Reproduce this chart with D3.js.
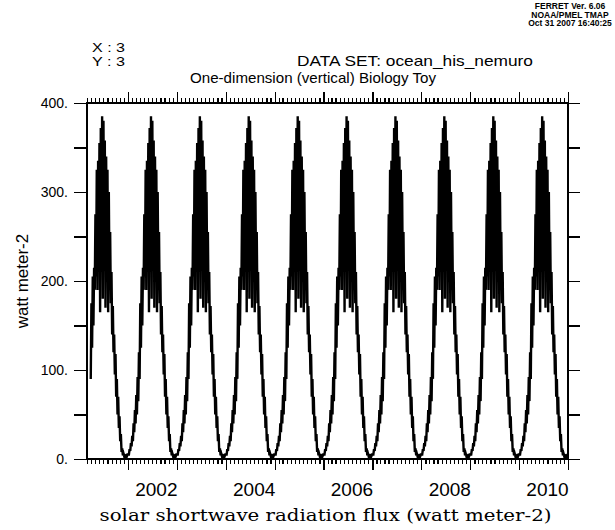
<!DOCTYPE html>
<html><head><meta charset="utf-8">
<script src="https://cdn.jsdelivr.net/npm/d3@7"></script>
<style>body{margin:0;background:#fff}svg{display:block}</style>
</head><body>
<svg id="chart" width="615" height="530"></svg>
<script>
// ---- data ----
const years = [2001,2002,2003,2004,2005,2006,2007,2008,2009,2010];
// pentad (5-day) values of the repeating annual cycle, W m-2 (alternating clear/cloudy pentads)
const pentadCycle = [
  5, 5, 11, 9, 18, 14, 26, 20, 40, 30,
  55, 40, 72, 50, 92, 65, 120, 90, 175, 125,
  205, 150, 215, 190, 275, 205, 325, 190, 335, 230,
  355, 165, 372, 210, 385, 180, 380, 225, 358, 170,
  340, 205, 325, 165, 300, 200, 255, 175, 210, 140,
  172, 120, 140, 95, 118, 70, 90, 50, 70, 35,
  48, 20, 28, 8, 12, 4, 6, 3, 4, 3,
  4, 3, 5
];
const firstPentad2001 = 17;
const yTicks = [0,50,100,150,200,250,300,350,400];
const yLabelValues = [0,100,200,300,400];
const xLabelYears = [2002,2004,2006,2008,2010];
const headerLines = ["FERRET Ver. 6.06","NOAA/PMEL TMAP","Oct 31 2007 16:40:25"];
const infoLines = ["X : 3","Y : 3"];
const datasetLabel = "DATA SET: ocean_his_nemuro";
const titleText = "One-dimension (vertical) Biology Toy";
const yTitle = "watt meter-2";
const xTitle = "solar shortwave radiation flux (watt meter-2)";

// ---- layout ----
const svg = d3.select("#chart");
const X0 = 87, X1 = 568, Y0 = 459, Y1 = 103;
const tStart = new Date(2001,2,1), tEnd = new Date(2011,0,1);
const x = d3.scaleTime().domain([tStart,tEnd]).range([X0,X1]);
const y = d3.scaleLinear().domain([0,400]).range([Y0,Y1]);
const sans = "Liberation Sans, Arial, sans-serif";

const points = [];
years.forEach(yr => {
  pentadCycle.forEach((v,i) => {
    if (yr === 2001 && i < firstPentad2001) return;
    points.push({t: new Date(yr,0,1 + i*5 + 2), v});
  });
});

// data line
svg.append("path").datum(points)
  .attr("fill","none").attr("stroke","#000").attr("stroke-width",2.4)
  .attr("stroke-linejoin","miter")
  .attr("d", d3.line().x(d=>x(d.t)).y(d=>y(d.v)));

// axes
const months = d3.timeMonth.range(tStart, d3.timeDay.offset(tEnd,1));
const yearTicks = d3.timeYear.range(d3.timeYear.ceil(tStart), d3.timeDay.offset(tEnd,1));
function styleAxis(g){
  g.select(".domain").remove();
  g.selectAll("line").attr("stroke","#000").attr("stroke-width",1.2).attr("shape-rendering","crispEdges");
}
svg.append("g").attr("transform",`translate(0,${Y0})`)
  .call(d3.axisBottom(x).tickValues(months).tickSize(5).tickFormat("")).call(styleAxis);
svg.append("g").attr("transform",`translate(0,${Y0})`)
  .call(d3.axisBottom(x).tickValues(yearTicks).tickSize(11).tickFormat("")).call(styleAxis);
svg.append("g").attr("transform",`translate(0,${Y1})`)
  .call(d3.axisTop(x).tickValues(months).tickSize(5).tickFormat("")).call(styleAxis);
svg.append("g").attr("transform",`translate(0,${Y1})`)
  .call(d3.axisTop(x).tickValues(yearTicks).tickSize(11).tickFormat("")).call(styleAxis);

const yl = svg.append("g").attr("transform",`translate(${X0},0)`)
  .call(d3.axisLeft(y).tickValues(yTicks).tickSize(13).tickPadding(6)
    .tickFormat(d => yLabelValues.includes(d) ? d + "." : "")).call(styleAxis);
yl.selectAll("text").attr("font-family",sans).attr("font-size",14).attr("fill","#000");
svg.append("g").attr("transform",`translate(${X1},0)`)
  .call(d3.axisRight(y).tickValues(yTicks).tickSize(12).tickFormat("")).call(styleAxis);

// frame
svg.append("rect").attr("x",X0).attr("y",Y1).attr("width",X1-X0).attr("height",Y0-Y1)
  .attr("fill","none").attr("stroke","#000").attr("stroke-width",1.2).attr("shape-rendering","crispEdges");

// x year labels (centred on mid-year)
svg.append("g").selectAll("text").data(xLabelYears).join("text")
  .attr("x", d => x(new Date(d,6,2)) + 4).attr("y",496)
  .attr("text-anchor","middle").attr("font-family",sans)
  .attr("font-size",19).text(d=>d);

// titles
svg.append("text").attr("x",(X0+X1)/2 - 2).attr("y",521).attr("text-anchor","middle")
  .attr("font-family","DejaVu Serif, serif").attr("font-size",17)
  .attr("textLength",452).attr("lengthAdjust","spacingAndGlyphs").text(xTitle);
svg.append("text").attr("transform",`translate(28,${(Y0+Y1)/2}) rotate(-90)`)
  .attr("text-anchor","middle").attr("font-family",sans)
  .attr("font-size",17).text(yTitle);
svg.append("text").attr("x",190).attr("y",83)
  .attr("font-family",sans).attr("font-size",15)
  .attr("textLength",246).attr("lengthAdjust","spacingAndGlyphs").text(titleText);
svg.append("text").attr("x",297).attr("y",66)
  .attr("font-family",sans).attr("font-size",15)
  .attr("textLength",236).attr("lengthAdjust","spacingAndGlyphs").text(datasetLabel);
svg.append("g").selectAll("text").data(infoLines).join("text")
  .attr("x",92).attr("y",(d,i)=>52 + i*14)
  .attr("font-family",sans).attr("font-size",13)
  .attr("textLength",33).attr("lengthAdjust","spacingAndGlyphs").text(d=>d);
svg.append("g").selectAll("text").data(headerLines).join("text")
  .attr("x",570).attr("y",(d,i)=>9 + i*8.5).attr("text-anchor","middle")
  .attr("font-family",sans).attr("font-size",8.5)
  .attr("font-weight","bold").text(d=>d);
</script>
</body></html>
